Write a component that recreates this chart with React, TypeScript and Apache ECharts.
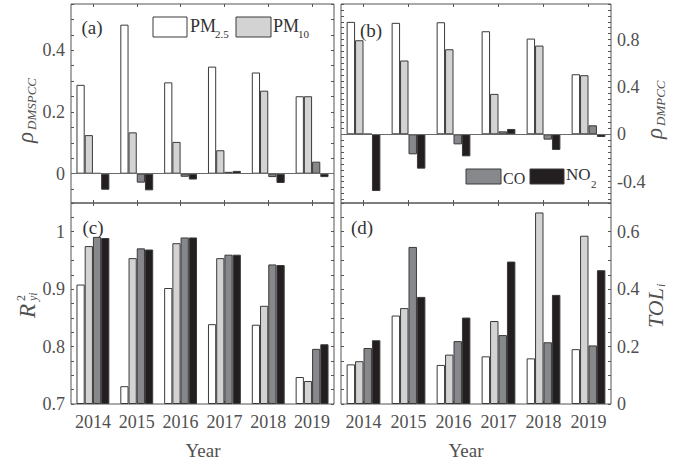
import React, { useEffect, useRef } from "react";
import * as echarts from "echarts";

const years = ["2014", "2015", "2016", "2017", "2018", "2019"];
const seriesNames = ["PM2.5", "PM10", "CO", "NO2"];

// (a) rho_DMSPCC
const pm25A = [0.288, 0.483, 0.296, 0.347, 0.328, 0.251];
const pm10A = [0.125, 0.134, 0.103, 0.076, 0.269, 0.251];
const coA = [0.002, -0.029, -0.01, 0.006, -0.011, 0.039];
const no2A = [-0.052, -0.054, -0.019, 0.009, -0.03, -0.011];

// (b) rho_DMPCC
const pm25B = [0.949, 0.941, 0.946, 0.87, 0.808, 0.507];
const pm10B = [0.794, 0.623, 0.718, 0.341, 0.749, 0.499];
const coB = [0.003, -0.169, -0.085, 0.025, -0.045, 0.076];
const no2B = [-0.479, -0.29, -0.186, 0.045, -0.132, -0.023];

// (c) R^2_yi
const pm25C = [0.908, 0.731, 0.902, 0.839, 0.838, 0.747];
const pm10C = [0.975, 0.954, 0.98, 0.954, 0.871, 0.74];
const coC = [0.991, 0.971, 0.99, 0.96, 0.943, 0.796];
const no2C = [0.989, 0.969, 0.99, 0.96, 0.942, 0.804];

// (d) TOL_i
const pm25D = [0.138, 0.308, 0.136, 0.166, 0.159, 0.191];
const pm10D = [0.149, 0.334, 0.172, 0.289, 0.667, 0.586];
const coD = [0.195, 0.547, 0.219, 0.24, 0.215, 0.204];
const no2D = [0.222, 0.373, 0.301, 0.496, 0.38, 0.466];

// tick labels
const labelsA = [0, 0.2, 0.4];
const labelsB = [-0.4, 0, 0.4, 0.8];
const labelsC = [0.7, 0.8, 0.9, 1];
const labelsD = [0, 0.2, 0.4, 0.6];

const colors = ["#ffffff", "#d3d3d4", "#87888b", "#231f20"];
const FONT = "Liberation Serif";
const TXT = "#505050";

function steps(a: number, b: number, s: number) {
  const out: number[] = [];
  const n = Math.round((b - a) / s);
  for (let i = 0; i <= n; i++) out.push(Math.round((a + i * s) * 1000) / 1000);
  return out;
}

const panels = [
  { grid: { left: 71, top: 4, width: 263, height: 199 }, min: -0.095, max: 0.55, labels: labelsA, ticks: steps(-0.05, 0.55, 0.05), labelSide: "left", data: [pm25A, pm10A, coA, no2A], zero: true, xLabels: false },
  { grid: { left: 341, top: 4, width: 270, height: 199 }, min: -0.58, max: 1.1, labels: labelsB, ticks: steps(-0.55, 1.1, 0.05), labelSide: "right", data: [pm25B, pm10B, coB, no2B], zero: true, xLabels: false },
  { grid: { left: 71, top: 203, width: 263, height: 201 }, min: 0.7, max: 1.05, labels: labelsC, ticks: steps(0.7, 1.05, 0.025), labelSide: "left", data: [pm25C, pm10C, coC, no2C], zero: false, xLabels: true },
  { grid: { left: 341, top: 203, width: 270, height: 201 }, min: 0, max: 0.7, labels: labelsD, ticks: steps(0, 0.7, 0.05), labelSide: "right", data: [pm25D, pm10D, coD, no2D], zero: false, xLabels: true },
];

function fmt(v: number) {
  return String(Math.round(v * 100) / 100);
}

export default function App() {
  const ref = useRef<HTMLDivElement>(null);
  useEffect(() => {
    if (!ref.current) return;
    const chart = echarts.init(ref.current, null, { renderer: "svg" });
    const grids: any[] = [];
    const xAxes: any[] = [];
    const yAxes: any[] = [];
    const series: any[] = [];
    panels.forEach((p, i) => {
      grids.push({ ...p.grid, show: true, borderColor: "#555555", borderWidth: 1, backgroundColor: "transparent", containLabel: false });
      const tick = { show: true, inside: true, alignWithLabel: true, length: 3, interval: 0, lineStyle: { color: "#555555" } };
      xAxes.push({
        gridIndex: i, type: "category", data: years, position: "bottom",
        axisLine: { show: false, onZero: false }, axisTick: tick,
        axisLabel: { show: p.xLabels, interval: 0, margin: 9, color: TXT, fontFamily: FONT, fontSize: 18 },
      });
      xAxes.push({
        gridIndex: i, type: "category", data: years, position: "top",
        axisLine: { show: false, onZero: false }, axisTick: tick, axisLabel: { show: false },
      });
      ["left", "right"].forEach((side) => {
        yAxes.push({
          gridIndex: i, type: "value", position: side, min: p.min, max: p.max, startValue: p.min > 0 ? p.min : 0,
          axisLine: { show: false, onZero: false }, splitLine: { show: false },
          axisTick: { show: true, inside: true, length: 3, customValues: p.ticks, lineStyle: { color: "#555555" } },
          axisLabel: {
            show: side === p.labelSide, customValues: p.labels, formatter: (v: number) => fmt(v),
            margin: 6, color: TXT, fontFamily: FONT, fontSize: 18,
          },
        });
      });
      p.data.forEach((arr, k) => {
        const s: any = {
          type: "bar", name: seriesNames[k], xAxisIndex: 2 * i, yAxisIndex: 2 * i, data: arr,
          barGap: "0%", barCategoryGap: "25%", clip: true,
          itemStyle: { color: colors[k], borderColor: "#3a3a3a", borderWidth: 1 },
        };
        if (k === 0 && p.zero) {
          s.markLine = {
            silent: true, symbol: ["none", "none"], label: { show: false },
            lineStyle: { color: "#6a6a6a", width: 1, type: "solid" }, data: [{ yAxis: 0 }],
          };
        }
        series.push(s);
      });
    });

    const t = (text: string, x: number, y: number, size: number, extra: any = {}) => ({
      type: "text", x, y,
      style: { text, fontFamily: FONT, fontSize: size, fill: extra.fill || "#333", align: extra.align || "left", verticalAlign: "middle", fontStyle: extra.italic ? "italic" : "normal" },
    });

    const graphic: any[] = [
      t("(a)", 92, 27, 19, { align: "center" }),
      t("(b)", 371, 30, 19, { align: "center" }),
      t("(c)", 93, 227, 19, { align: "center" }),
      t("(d)", 362, 227, 19, { align: "center" }),
      // legend (a)
      { type: "rect", shape: { x: 153, y: 17, width: 34, height: 20 }, style: { fill: colors[0], stroke: "#3a3a3a", lineWidth: 1 } },
      t("PM", 190, 26, 18),
      t("2.5", 215, 34, 11),
      { type: "rect", shape: { x: 236, y: 17, width: 35, height: 20 }, style: { fill: colors[1], stroke: "#3a3a3a", lineWidth: 1 } },
      t("PM", 273, 26, 18),
      t("10", 298, 34, 11),
      // legend (b)
      { type: "rect", shape: { x: 466, y: 169, width: 35, height: 15 }, style: { fill: colors[2], stroke: "#3a3a3a", lineWidth: 1 } },
      t("CO", 503, 178, 16),
      { type: "rect", shape: { x: 530, y: 169, width: 34, height: 15 }, style: { fill: colors[3], stroke: "#3a3a3a", lineWidth: 1 } },
      t("NO", 566, 174, 17),
      t("2", 591, 184, 11),
      // axis names
      {
        type: "group", x: 26, y: 107, rotation: Math.PI / 2,
        children: [t("ρ", -36, -1, 23, { italic: true, fill: TXT }), t("DMSPCC", -23, 5, 13, { italic: true, fill: TXT })],
      },
      {
        type: "group", x: 655, y: 110, rotation: Math.PI / 2,
        children: [t("ρ", -29, -1, 23, { italic: true, fill: TXT }), t("DMPCC", -16, 5, 13, { italic: true, fill: TXT })],
      },
      {
        type: "group", x: 27, y: 302, rotation: Math.PI / 2,
        children: [t("R", -16, 0, 23, { italic: true, fill: TXT }), t("2", 1, -6, 12, { fill: TXT }), t("yi", 1, 6, 12, { italic: true, fill: TXT })],
      },
      {
        type: "group", x: 656, y: 304, rotation: Math.PI / 2,
        children: [t("TOL", -24, -1, 22, { italic: true, fill: TXT }), t("i", 17, 5, 12, { italic: true, fill: TXT })],
      },
      t("Year", 203, 450, 19, { align: "center", fill: TXT }),
      t("Year", 466, 450, 19, { align: "center", fill: TXT }),
    ];

    chart.setOption({
      animation: false,
      backgroundColor: "#ffffff",
      grid: grids,
      xAxis: xAxes,
      yAxis: yAxes,
      series,
      graphic,
    });
    return () => chart.dispose();
  }, []);
  return <div ref={ref} style={{ position: "fixed", left: 0, top: 0, width: 679, height: 464 }} />;
}
